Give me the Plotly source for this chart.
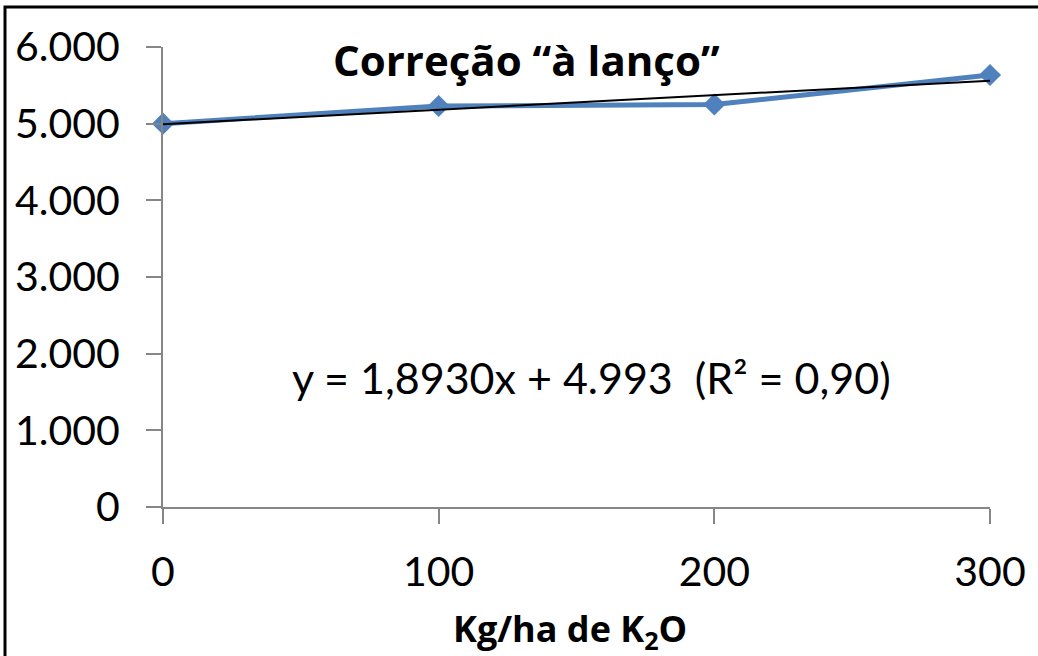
import plotly.graph_objects as go

doses = [0, 100, 200, 300]
yields = [5000, 5230, 5250, 5635]
slope = 1.893
intercept = 4993
trend_x = [0, 300]
trend_y = [intercept + slope * x for x in trend_x]
y_ticks = [0, 1000, 2000, 3000, 4000, 5000, 6000]
y_tick_text = ["0", "1.000", "2.000", "3.000", "4.000", "5.000", "6.000"]
x_ticks = [0, 100, 200, 300]

FONT = "Lato"
BOLD = "Open Sans"

fig = go.Figure()
fig.add_trace(go.Scatter(
    x=doses, y=yields, mode="lines+markers",
    line=dict(color="#4F81BD", width=5),
    marker=dict(symbol="diamond", size=17, color="#4F81BD"),
    showlegend=False, cliponaxis=False,
))
fig.add_trace(go.Scatter(
    x=trend_x, y=trend_y, mode="lines",
    line=dict(color="black", width=2),
    showlegend=False, cliponaxis=False,
))

fig.update_layout(
    width=1038, height=656,
    margin=dict(l=163, r=48, t=47, b=149),
    paper_bgcolor="white", plot_bgcolor="white",
    font=dict(family=FONT, color="black"),
    xaxis=dict(
        range=[0, 300], tickvals=x_ticks, showgrid=False, zeroline=False,
        showline=True, linecolor="#868686", linewidth=2,
        ticks="outside", ticklen=15, tickwidth=2, tickcolor="#868686",
        tickfont=dict(size=41, family=FONT), ticklabelstandoff=13,
    ),
    yaxis=dict(
        range=[0, 6000], tickvals=y_ticks, ticktext=y_tick_text, showgrid=False, zeroline=False,
        showline=True, linecolor="#868686", linewidth=2,
        ticks="outside", ticklen=15, tickwidth=2, tickcolor="#868686",
        tickfont=dict(size=41, family=FONT), ticklabelstandoff=18,
    ),
    annotations=[
        dict(text="<b>Correção “à lanço”</b>", xref="paper", yref="paper",
             x=(526 - 163) / 827, y=(507 - 60) / 460, xanchor="center", yanchor="middle",
             showarrow=False, font=dict(size=42, family=BOLD)),
        dict(text="y = 1,8930x + 4.993  (R² = 0,90)", xref="paper", yref="paper",
             x=(591 - 163) / 827, y=(507 - 377) / 460, xanchor="center", yanchor="middle",
             showarrow=False, font=dict(size=43, family=FONT)),
        dict(text="<b>Kg/ha de K<sub>2</sub>O</b>", xref="paper", yref="paper",
             x=(570 - 163) / 827, y=(507 - 630) / 460, xanchor="center", yanchor="middle",
             showarrow=False, font=dict(size=36, family=BOLD)),
    ],
    shapes=[
        dict(type="rect", xref="paper", yref="paper",
             x0=(5 - 163) / 827, x1=(1045 - 163) / 827,
             y0=(507 - 665) / 460, y1=(507 - 7) / 460,
             line=dict(color="black", width=3), fillcolor="rgba(0,0,0,0)", layer="below"),
    ],
)

fig.write_html("out.html")
